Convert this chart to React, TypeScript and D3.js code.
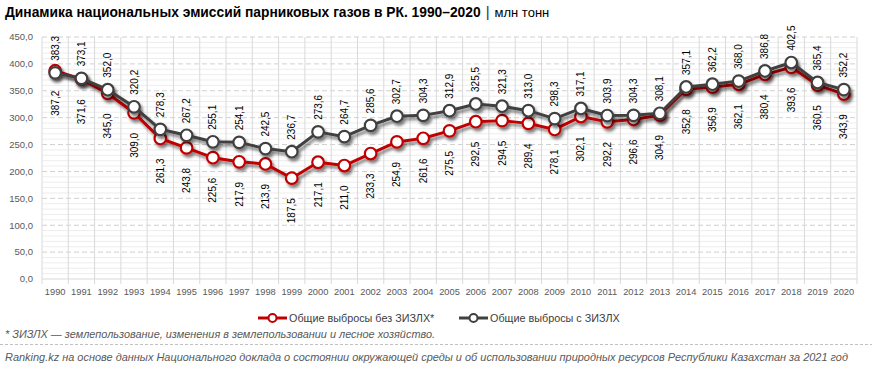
import { useEffect } from "react";
import * as d3 from "d3";

const years = d3.range(1990, 2021).map(String);
const withLulucf = [
  383.3, 373.1, 352.0, 320.2, 278.3, 267.2, 255.1, 254.1, 242.5, 236.7, 273.6,
  264.7, 285.6, 302.7, 304.3, 312.9, 325.5, 321.3, 313.0, 298.3, 317.1, 303.9,
  304.3, 308.1, 357.1, 362.2, 368.0, 386.8, 402.5, 365.4, 352.2,
];
const withoutLulucf = [
  387.2, 371.6, 345.0, 309.0, 261.3, 243.8, 225.6, 217.9, 213.9, 187.5, 217.1,
  211.0, 233.3, 254.9, 261.6, 275.5, 292.5, 294.5, 289.4, 278.1, 302.1, 292.2,
  296.6, 304.9, 352.8, 356.9, 362.1, 380.4, 393.6, 360.5, 343.9,
];
const yTicks = d3.range(0, 451, 50);
const yMinor = d3.range(0, 451, 10);

const RED = "#c00000";
const GRAY = "#404040";
const FONT = "'Liberation Sans', Arial, sans-serif";

const fmt = (v: number) => v.toFixed(1).replace(".", ",");

export default function App() {
  useEffect(() => {
    document.body.style.margin = "0";
  }, []);

  const width = 872;
  const height = 370;
  const left = 42;
  const right = 857;
  const top = 37;
  const bottom = 279;

  const x = d3.scaleBand().domain(years).range([left, right]);
  const y = d3.scaleLinear().domain([0, 450]).range([bottom, top]);
  const cx = (i: number) => (x(years[i]) as number) + x.bandwidth() / 2;

  const line = d3
    .line<number>()
    .x((_, i) => cx(i))
    .y((d) => y(d));

  const series = [
    { values: withoutLulucf, color: RED, above: false },
    { values: withLulucf, color: GRAY, above: true },
  ];

  return (
    <svg width={width} height={height} style={{ display: "block", background: "#fff" }}>
      <defs>
        <filter id="shadow" x="-10%" y="-10%" width="120%" height="130%">
          <feDropShadow dx="2" dy="3" stdDeviation="1.8" floodColor="#000" floodOpacity="0.5" />
        </filter>
      </defs>

      <text x={5} y={17} fontFamily={FONT} fontSize={13.8} fill="#000">
        <tspan fontWeight="bold">Динамика национальных эмиссий парниковых газов в РК. 1990–2020</tspan>
        <tspan dx={5} fontSize={15} fill="#333">|</tspan>
        <tspan dx={5} fontSize={13}>млн тонн</tspan>
      </text>

      {/* minor grid */}
      {yMinor
        .filter((v) => v % 50 !== 0)
        .map((v) => (
          <line key={"m" + v} x1={left} x2={right} y1={y(v)} y2={y(v)} stroke="#ededed" strokeWidth={1} />
        ))}
      {/* major dashed grid */}
      {yTicks
        .filter((v) => v > 0)
        .map((v) => (
          <line
            key={"g" + v}
            x1={left}
            x2={right}
            y1={y(v)}
            y2={y(v)}
            stroke="#d0d0d0"
            strokeDasharray="5 3"
            strokeWidth={1}
          />
        ))}
      {/* vertical category grid + ticks */}
      {years.map((yr) => (
        <line
          key={"v" + yr}
          x1={x(yr) as number}
          x2={x(yr) as number}
          y1={top}
          y2={bottom + 5}
          stroke="#d9d9d9"
          strokeWidth={1}
        />
      ))}
      <line x1={right} x2={right} y1={top} y2={bottom + 5} stroke="#d9d9d9" />
      <line x1={left} x2={right} y1={bottom} y2={bottom} stroke="#d9d9d9" />

      {yTicks.map((v) => (
        <text
          key={"yt" + v}
          x={33}
          y={y(v)}
          dy="0.35em"
          textAnchor="end"
          fontFamily={FONT}
          fontSize={9.5}
          fill="#595959"
        >
          {fmt(v)}
        </text>
      ))}
      {years.map((yr, i) => (
        <text
          key={"xt" + yr}
          x={cx(i)}
          y={295}
          textAnchor="middle"
          fontFamily={FONT}
          fontSize={9.3}
          fill="#595959"
        >
          {yr}
        </text>
      ))}

      {series.map((s, si) => (
        <g key={"s" + si} filter="url(#shadow)">
          <path d={line(s.values) as string} fill="none" stroke={s.color} strokeWidth={3} strokeLinejoin="round" />
          {s.values.map((v, i) => (
            <circle key={i} cx={cx(i)} cy={y(v)} r={5.8} fill="#fff" stroke={s.color} strokeWidth={2.2} />
          ))}
        </g>
      ))}

      {series.map((s, si) =>
        s.values.map((v, i) => {
          const px = cx(i);
          const py = s.above ? y(v) - 12 : y(v) + 20;
          return (
            <text
              key={"l" + si + "-" + i}
              transform={`translate(${px},${py}) rotate(-90)`}
              dy="0.35em"
              textAnchor={s.above ? "start" : "end"}
              fontFamily={FONT}
              fontSize={10}
              fill="#000"
            >
              {fmt(v)}
            </text>
          );
        })
      )}

      {/* legend */}
      {[
        { color: RED, label: "Общие выбросы без ЗИЗЛХ*", x0: 258 },
        { color: GRAY, label: "Общие выбросы с ЗИЗЛХ", x0: 459 },
      ].map((l) => (
        <g key={l.label}>
          <line x1={l.x0} x2={l.x0 + 29} y1={318} y2={318} stroke={l.color} strokeWidth={3} />
          <circle cx={l.x0 + 14.5} cy={318} r={4} fill="#fff" stroke={l.color} strokeWidth={2} />
          <text x={l.x0 + 31} y={318} dy="0.35em" fontFamily={FONT} fontSize={10.8} fill="#404040">
            {l.label}
          </text>
        </g>
      ))}

      <text
        x={5}
        y={338}
        fontFamily={FONT}
        fontStyle="italic"
        fontSize={10.5}
        fill="#595959"
        textLength={430}
        lengthAdjust="spacingAndGlyphs"
      >
        * ЗИЗЛХ — землепользование, изменения в землепользовании и лесное хозяйство.
      </text>
      <line x1={0} x2={width} y1={344.5} y2={344.5} stroke="#bfbfbf" strokeDasharray="3 2" />
      <text
        x={5}
        y={361}
        fontFamily={FONT}
        fontStyle="italic"
        fontSize={10.5}
        fill="#595959"
        textLength={843}
        lengthAdjust="spacingAndGlyphs"
      >
        Ranking.kz на основе данных Национального доклада о состоянии окружающей среды и об использовании природных ресурсов Республики Казахстан за 2021 год
      </text>
    </svg>
  );
}
